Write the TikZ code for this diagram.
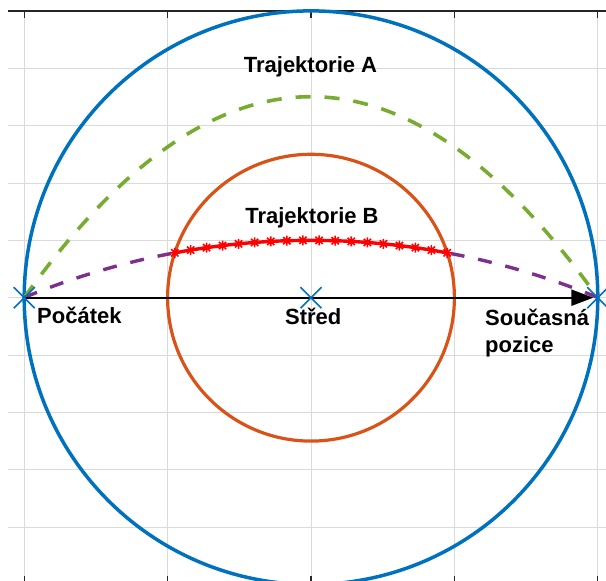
\documentclass[tikz,border=0pt]{standalone}
\usepackage{fontspec}
\setmainfont{Liberation Sans}
\usetikzlibrary{arrows.meta}
\definecolor{mblue}{HTML}{0072BD}
\definecolor{morange}{HTML}{D95319}
\definecolor{mgreen}{HTML}{77AC30}
\definecolor{mpurple}{HTML}{7E2F8E}
\definecolor{mred}{HTML}{FF0000}
\definecolor{gridgray}{HTML}{DADADA}
\definecolor{axisgray}{HTML}{262626}
\begin{document}
\begin{tikzpicture}[x=1pt,y=1pt,
  gridline/.style={draw=gridgray,line width=0.9pt},
  axisline/.style={draw=axisgray,line width=1.2pt},
  bigcirc/.style={draw=mblue,line width=3.5pt},
  smallcirc/.style={draw=morange,line width=3.2pt},
  trajA/.style={draw=mgreen,line width=3.6pt,dash pattern=on 15pt off 14pt},
  trajpurple/.style={draw=mpurple,line width=3.4pt,dash pattern=on 14pt off 14pt},
  trajB/.style={draw=mred,line width=3.4pt},
  redmark/.style={draw=mred,line width=1.6pt},
  xmark/.style={draw=mblue,line width=1.6pt},
  vector/.style={draw=black,line width=2.2pt,-{Triangle[length=22pt,width=16pt]},shorten >=4.5pt},
  lbl/.style={font=\fontsize{22}{27}\selectfont\bfseries,inner sep=0pt}]
\useasboundingbox (0,0) rectangle (606,581);
\coordinate (S) at (24.2,283.3);
\coordinate (C) at (311,283.3);
\coordinate (E) at (597.8,283.3);
\coordinate (BC) at (311,-407);
\begin{scope}
\clip (0,0) rectangle (606,581);
% grid
\foreach \x in {24.2,167.6,311,454.4,597.8} \draw[gridline] (\x,570) -- (\x,-5);
\foreach \y in {512.7,455.3,398,340.7,283.3,226,168.7,111.3,54} \draw[gridline] (8,\y) -- (606,\y);
\draw[axisline] (8,570) -- (606,570);
\foreach \x in {24.2,167.6,311,454.4,597.8} {
  \draw[axisline] (\x,570) -- (\x,562.5);
  \draw[axisline] (\x,-3.3) -- (\x,4.5);
}
% circles
\draw[bigcirc] (C) circle[radius=286.8];
\draw[smallcirc] (C) circle[radius=143.4];
% trajectory A (parabola)
\draw[trajA] (S) .. controls (215.4,551.3) and (406.6,551.3) .. (E);
% trajectory B: purple dashed outer parts
\draw[trajpurple] (BC) ++(112.57:747.7) arc[start angle=112.57, end angle=100.5, radius=747.7];
\draw[trajpurple] (BC) ++(67.43:747.7) arc[start angle=67.43, end angle=79.5, radius=747.7];
% red part with markers
\draw[trajB] (BC) ++(100.5:747.7) arc[start angle=100.5, end angle=79.5, radius=747.7];
\foreach \i in {0,...,17}{
  \pgfmathsetmacro{\ang}{100.5-\i*21/17}
  \draw[redmark] (BC) ++(\ang:747.7) +(-5,0) -- +(5,0) +(0,-5) -- +(0,5)
     +(-3.6,-3.6) -- +(3.6,3.6) +(-3.6,3.6) -- +(3.6,-3.6);
}
% vector
\draw[vector] (S) -- (E);
% markers
\foreach \p in {S,C,E}
  \draw[xmark] (\p) +(-10.5,-10.5) -- +(10.5,10.5) +(-10.5,10.5) -- +(10.5,-10.5);
\end{scope}
% labels
\node[lbl,anchor=base] (labA) at (310.5,508) {Trajektorie A};
\node[lbl,anchor=base] (labB) at (312,357.7) {Trajektorie B};
\node[lbl,anchor=base west] (labS) at (37,257) {Počátek};
\node[lbl,anchor=base] (labC) at (313.3,256.5) {Střed};
\node[lbl,anchor=north west,align=left] (labE) at (485,272.5) {Současná\\pozice};
\end{tikzpicture}
\end{document}
